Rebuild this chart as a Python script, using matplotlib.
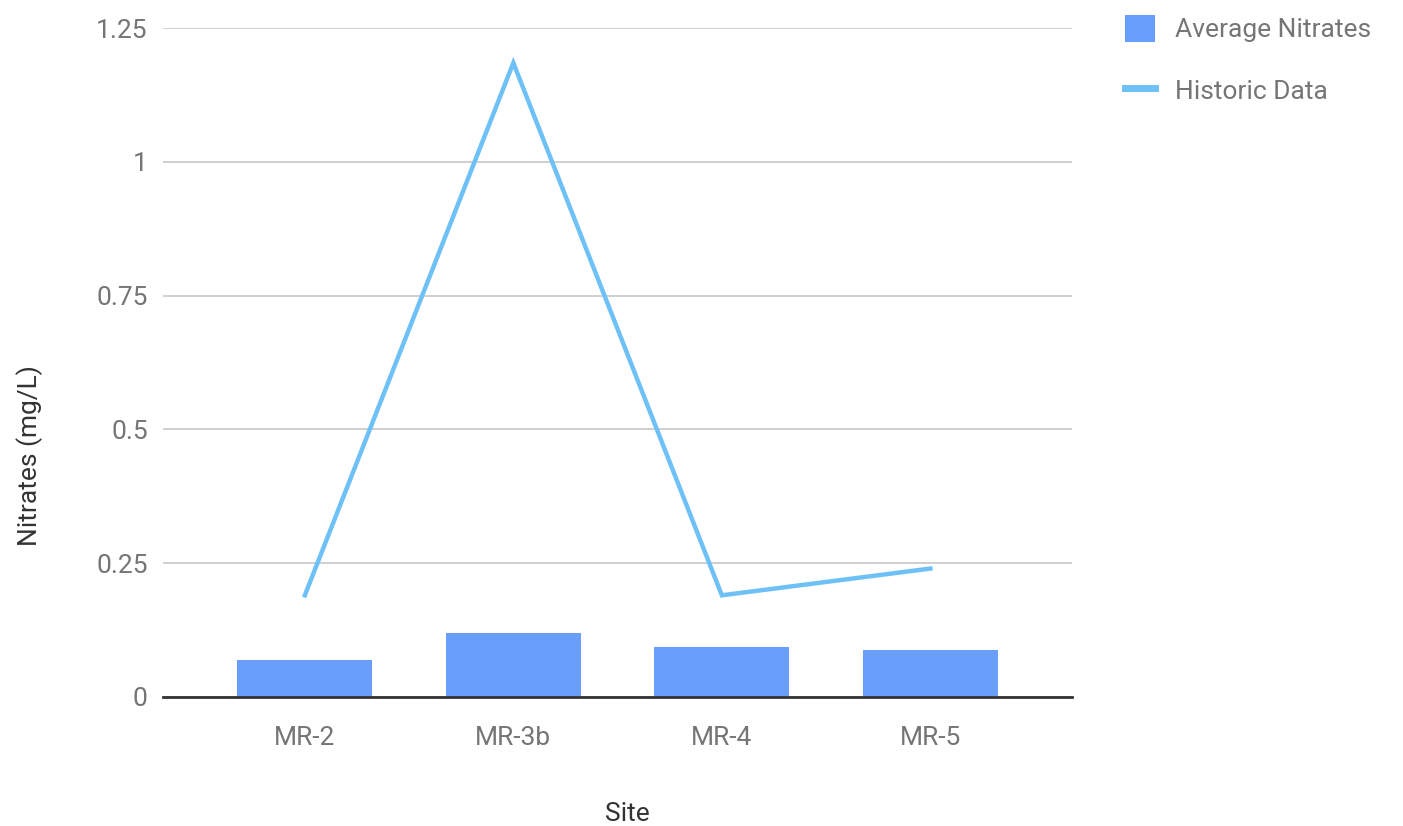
import matplotlib
matplotlib.use("Agg")
import matplotlib.pyplot as plt
from matplotlib.patches import Patch
from matplotlib.lines import Line2D

sites = ["MR-2", "MR-3b", "MR-4", "MR-5"]
average_nitrates = [0.07, 0.12, 0.093, 0.087]
historic_data = [0.19, 1.185, 0.19, 0.24]
y_ticks = [0, 0.25, 0.5, 0.75, 1, 1.25]
y_tick_labels = ["0", "0.25", "0.5", "0.75", "1", "1.25"]

plt.rcParams["font.family"] = ["Roboto", "DejaVu Sans"]

BAR_COLOR = "#699efa"
LINE_COLOR = "#6ec1f6"
TICK_COLOR = "#757575"
TITLE_COLOR = "#333333"

fig = plt.figure(figsize=(14.03, 8.26), dpi=100)
ax = fig.add_axes([0.1162, 0.1562, 0.648, 0.8098])

x = list(range(len(sites)))
ax.bar(x, average_nitrates, width=0.647, color=BAR_COLOR, zorder=2)
ax.plot(x, historic_data, color=LINE_COLOR, linewidth=3.2, zorder=3,
        solid_joinstyle="miter")

ax.set_xlim(-0.68, 3.68)
ax.set_ylim(0, 1.25)
ax.set_yticks(y_ticks)
ax.set_yticklabels(y_tick_labels)
ax.set_xticks(x)
ax.set_xticklabels(sites)

ax.grid(axis="y", color="#cccccc", linewidth=1.3, zorder=0)
ax.set_axisbelow(True)
for side in ["top", "right", "left"]:
    ax.spines[side].set_visible(False)
ax.spines["bottom"].set_color("#333333")
ax.spines["bottom"].set_linewidth(2)
ax.spines["bottom"].set_zorder(4)

ax.tick_params(axis="both", length=0, labelsize=19, labelcolor=TICK_COLOR)
ax.tick_params(axis="y", pad=11)
ax.tick_params(axis="x", pad=21)

fig.text(0.0214, 0.448, "Nitrates (mg/L)", rotation=90, ha="center", va="center",
         fontsize=19, color=TITLE_COLOR)
fig.text(0.447, 0.015, "Site", ha="center", va="center",
         fontsize=19, color=TITLE_COLOR)

handles = [
    Patch(facecolor=BAR_COLOR, edgecolor="none"),
    Line2D([0], [0], color=LINE_COLOR, linewidth=5),
]
leg = fig.legend(handles, ["Average Nitrates", "Historic Data"],
                 loc="upper left", bbox_to_anchor=(0.7944, 0.995),
                 frameon=False, fontsize=19, labelcolor=TICK_COLOR,
                 handlelength=1.15, handleheight=1.2, handletextpad=0.75,
                 labelspacing=1.3, borderaxespad=0.0)

fig.savefig("out.png", dpi=100, facecolor="white")
